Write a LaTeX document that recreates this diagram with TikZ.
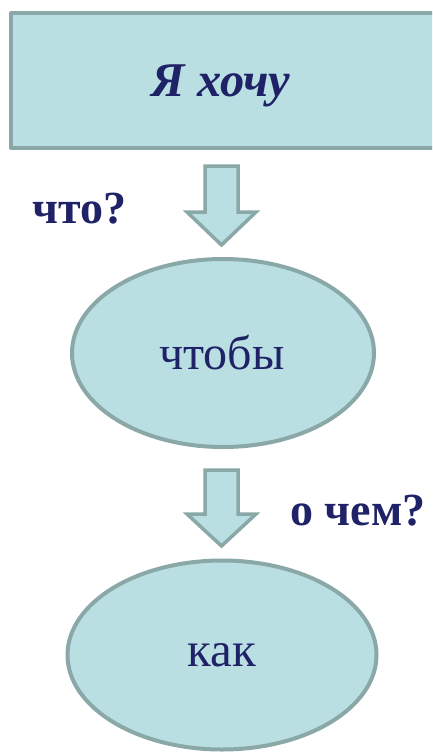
\documentclass[tikz,border=0pt]{standalone}
\usepackage{fontspec}
\setmainfont{Liberation Serif}
\usetikzlibrary{shapes.geometric}
\definecolor{fillc}{HTML}{BADFE2}
\definecolor{edgec}{HTML}{8BA8A8}
\definecolor{textc}{HTML}{1F2266}
\tikzset{
  boxstyle/.style={fill=fillc, draw=edgec, line width=4pt, line join=round},
  ovalstyle/.style={ellipse, fill=fillc, draw=edgec, line width=4pt, inner sep=0pt},
  blockarrow/.style={fill=fillc, draw=edgec, line width=3.5pt, line join=miter},
  lbl/.style={text=textc, font=\fontsize{46}{50}\selectfont\bfseries, inner sep=0pt}
}
\begin{document}
\begin{tikzpicture}[x=1pt,y=1pt]
\useasboundingbox (0,0) rectangle (432,-752);
\clip (0,0) rectangle (432,-752);
% top box
\draw[boxstyle] (11,-13) rectangle (450,-148);
\node[text=textc, font=\fontsize{48.5}{52}\selectfont\bfseries\itshape, inner sep=0pt] (want) at (221,-86) {Я хочу};
% arrow 1
\draw[blockarrow] (205,-166) -- (238,-166) -- (238,-212) -- (256,-212) -- (221.5,-245) -- (187,-212) -- (205,-212) -- cycle;
\node[lbl, anchor=base west] (what) at (32,-223) {что?};
% ellipse 1
\node[ovalstyle, minimum width=302, minimum height=188] (so) at (223,-353) {};
\node[text=textc, font=\fontsize{48}{52}\selectfont, inner sep=0pt] (sot) at (222,-353) {чтобы};
% arrow 2
\draw[blockarrow] (205,-470) -- (238,-470) -- (238,-514) -- (256,-514) -- (221.5,-546) -- (187,-514) -- (205,-514) -- cycle;
\node[lbl, anchor=base west] (about) at (290,-525) {о чем?};
% ellipse 2
\node[ovalstyle, minimum width=309, minimum height=189] (how) at (222,-655) {};
\node[text=textc, font=\fontsize{49}{53}\selectfont, inner sep=0pt] (howt) at (222,-655) {как};
\end{tikzpicture}
\end{document}
